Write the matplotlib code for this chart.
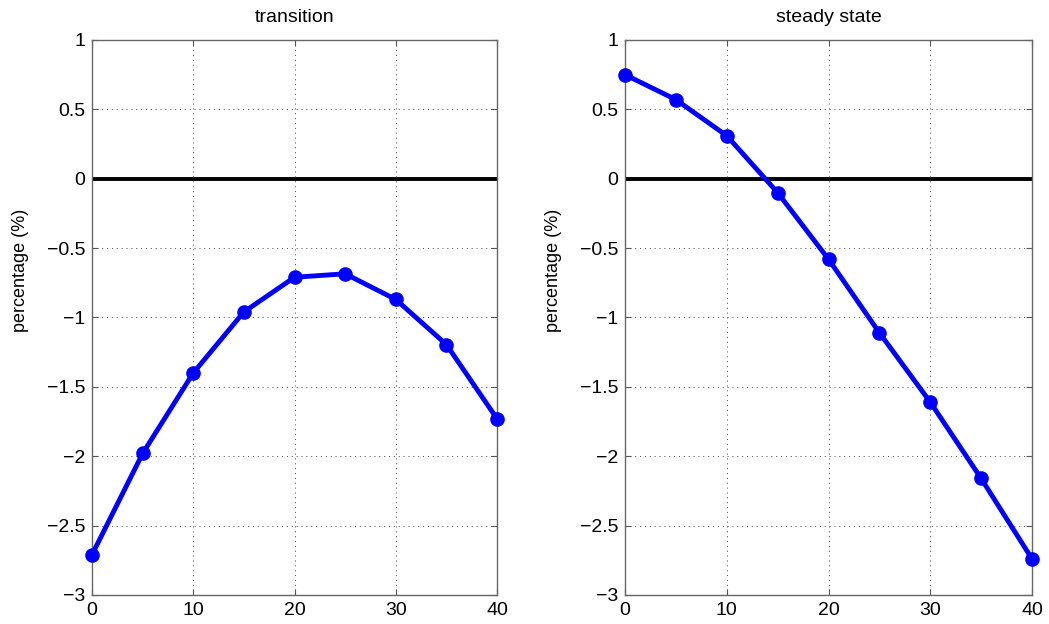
import matplotlib.pyplot as plt
import numpy as np

plt.rcParams["font.family"] = ["Liberation Sans", "DejaVu Sans"]

periods = [0, 5, 10, 15, 20, 25, 30, 35, 40]
transition = [-2.71, -1.98, -1.40, -0.96, -0.71, -0.685, -0.87, -1.195, -1.73]
steady_state = [0.75, 0.57, 0.31, -0.10, -0.58, -1.11, -1.61, -2.16, -2.74]

titles = ["transition", "steady state"]
series = [transition, steady_state]
y_ticks = [-3, -2.5, -2, -1.5, -1, -0.5, 0, 0.5, 1]
x_ticks = [0, 10, 20, 30, 40]


def tick_label(v):
    s = f"{v:g}"
    return s.replace("-", "\u2212")


fig = plt.figure(figsize=(10.49, 6.24), dpi=100)
positions = [
    [0.0877, 0.0465, 0.3861, 0.8894],
    [0.5958, 0.0465, 0.3880, 0.8894],
]

for pos, title, values in zip(positions, titles, series):
    ax = fig.add_axes(pos)
    ax.plot(periods, values, color="#0000ff", lw=3.5, marker="o",
            markersize=9.5, zorder=3, clip_on=False)
    ax.axhline(0, color="black", lw=2.8, zorder=2)
    ax.set_xlim(0, 40)
    ax.set_ylim(-3, 1)
    ax.set_xticks(x_ticks)
    ax.set_yticks(y_ticks)
    ax.set_yticklabels([tick_label(v) for v in y_ticks])
    ax.tick_params(direction="in", top=True, right=True, labelsize=14,
                   length=4, color="#555555", pad=5)
    ax.grid(True, linestyle=(0, (1, 4)), color="#444444", lw=0.7)
    for sp in ax.spines.values():
        sp.set_color("#666666")
        sp.set_linewidth(1.0)
    ax.set_title(title, fontsize=14, pad=13)
    ax.set_ylabel("percentage (%)", fontsize=13)
    ax.yaxis.set_label_coords(-0.155, 0.584)

fig.savefig("out.png", dpi=100)
